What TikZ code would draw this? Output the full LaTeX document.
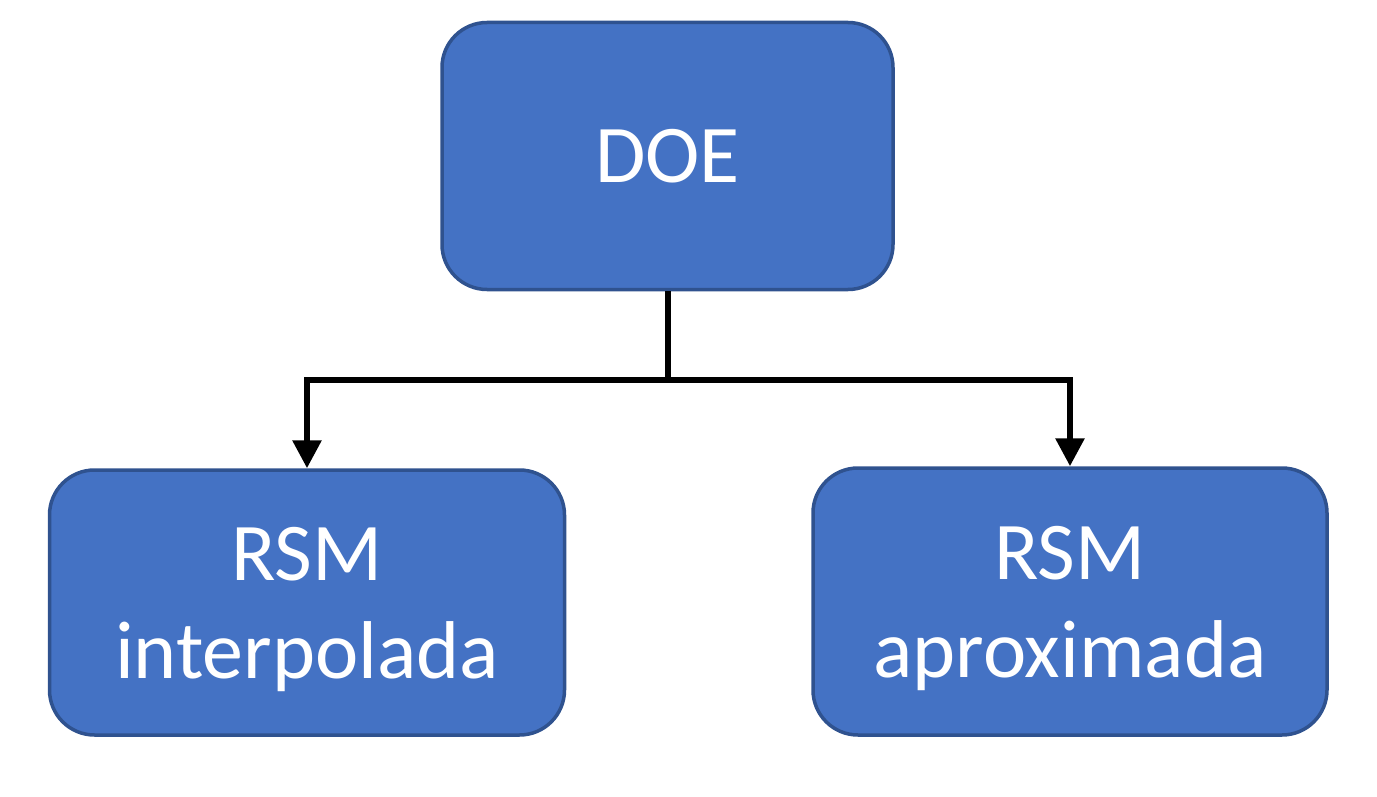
\documentclass[tikz,border=0pt]{standalone}
\usepackage{fontspec}
\setmainfont{Carlito}
\usetikzlibrary{arrows.meta}
\definecolor{boxfill}{HTML}{4472C4}
\definecolor{boxline}{HTML}{2F528F}
\tikzset{
  blockbox/.style={draw=boxline, fill=boxfill, line width=3.5pt, rounded corners=45pt,
    text=white, align=center, font=\fontsize{82}{98}\selectfont, text depth=0pt, inner sep=0pt},
  wire/.style={line width=6pt},
  link/.style={wire, -{Triangle[width=28pt,length=28pt]}}
}
\begin{document}
\begin{tikzpicture}[x=1pt,y=-1pt]
\useasboundingbox (0,0) rectangle (1377,797);
\node[blockbox, minimum width=451pt, minimum height=267pt] (doe) at (667.5,156) {DOE};
\node[blockbox, minimum width=515pt, minimum height=265pt] (interp) at (307,602.5) {RSM\\interpolada};
\node[blockbox, minimum width=514pt, minimum height=267pt] (aprox) at (1070,601.5) {RSM\\aproximada};
\coordinate (split) at (667.5,380);
\draw[wire] (doe.south) -- (split);
\draw[link] (split) -| (interp.north);
\draw[link] (split) -| (aprox.north);
\end{tikzpicture}
\end{document}
